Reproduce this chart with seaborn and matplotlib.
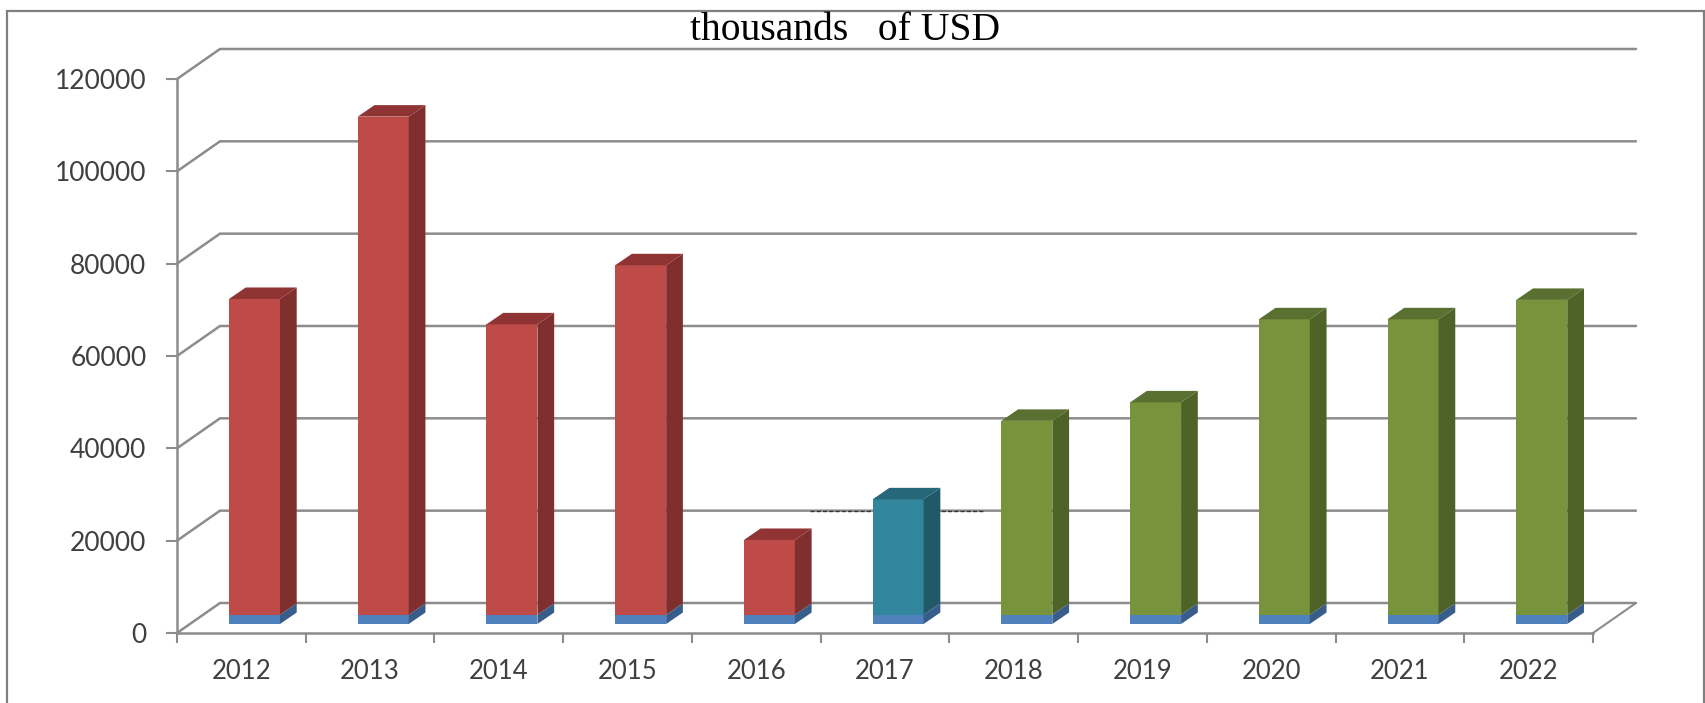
import matplotlib
matplotlib.use("Agg")
import matplotlib.pyplot as plt
from matplotlib.patches import Polygon, Rectangle
import numpy as np
import pandas as pd
import seaborn as sns

# --- datos ---
years = ["2012", "2013", "2014", "2015", "2016", "2017", "2018", "2019", "2020", "2021", "2022"]
blue_values = [2000, 2000, 2000, 2000, 2000, 2000, 2000, 2000, 2000, 2000, 2000]
main_values = [68400, 107900, 62900, 75700, 16200, 25000, 42000, 46000, 64000, 64000, 68200]
groups = ["red", "red", "red", "red", "red", "teal", "green", "green", "green", "green", "green"]
y_ticks = [0, 20000, 40000, 60000, 80000, 100000, 120000]

# colores: frente, lateral, tapa
face_colors = {"red": "#BE4B48", "teal": "#31859C", "green": "#77933C", "blue": "#4F81BD"}
side_colors = {"red": "#7F2F2D", "teal": "#215968", "green": "#4F6228", "blue": "#385D8A"}
top_colors = {"red": "#8F3432", "teal": "#266779", "green": "#5A7030"}
GRID = "#8C8C8C"

# profundidad del "3D" en unidades de datos
WALL_DX, WALL_DY = 0.334, 6500
BAR_DX, BAR_DY = 0.13, 2490
BAR_SHIFT = 0.102
FLOOR = 1950

W, H = 1706, 703
sns.set_style("white")
plt.rcParams["font.family"] = ["Lato", "DejaVu Sans"]

fig = plt.figure(figsize=(W / 100, H / 100), dpi=100)
ax = fig.add_axes([177 / W, 1 - 633 / H, (1593 - 177) / W, (633 - 79) / H])
ax.patch.set_alpha(0)

# marco exterior (sale por abajo de la figura)
fig.add_artist(Rectangle((7.5 / W, -0.02), (1704 - 7.5) / W, 1.02 - 10.5 / H, transform=fig.transFigure,
                         fill=False, edgecolor="#7F7F7F", linewidth=1.6))

df = pd.DataFrame({"year": years, "blue": blue_values, "main": main_values, "group": groups})

# barras apiladas: primero la base azul, encima la serie principal
sns.barplot(data=df, x="year", y="blue", color=face_colors["blue"], saturation=1, width=0.396,
            bottom=FLOOR, zorder=3, ax=ax)
n_blue = len(ax.patches)
sns.barplot(data=df, x="year", y="main", hue="group", palette=face_colors, saturation=1, width=0.396,
            dodge=False, bottom=FLOOR + blue_values[0], legend=False, zorder=3, ax=ax)

# caras lateral y superior a partir de cada barra ya dibujada
for i, p in enumerate(list(ax.patches)):
    if p.get_height() <= 0:
        continue
    is_blue = i < n_blue
    group = "blue" if is_blue else groups[int(round(p.get_x() + p.get_width() / 2))]
    p.set_x(p.get_x() + BAR_SHIFT)
    p.set_edgecolor("none")
    x0, x1 = p.get_x(), p.get_x() + p.get_width()
    y0, y1 = p.get_y(), p.get_y() + p.get_height()
    ax.add_patch(Polygon([(x1, y0), (x1 + BAR_DX, y0 + BAR_DY), (x1 + BAR_DX, y1 + BAR_DY), (x1, y1)],
                         facecolor=side_colors[group], edgecolor="none", zorder=3, clip_on=False))
    if not is_blue:
        ax.add_patch(Polygon([(x0, y1), (x0 + BAR_DX, y1 + BAR_DY), (x1 + BAR_DX, y1 + BAR_DY), (x1, y1)],
                             facecolor=top_colors[group], edgecolor="none", zorder=3, clip_on=False))

# paredes: lineas de la cuadricula con la diagonal de profundidad
x_left, x_right = -0.5, len(years) - 0.5
for v in y_ticks:
    ax.plot([x_left, x_left + WALL_DX, x_right + WALL_DX], [v, v + WALL_DY, v + WALL_DY],
            color=GRID, lw=1.8, zorder=1, clip_on=False, solid_joinstyle="miter")
ax.plot([x_right, x_right + WALL_DX], [0, WALL_DY], color=GRID, lw=1.5, zorder=1, clip_on=False)

# trozo punteado oscuro a los lados de 2017
ax.plot([4.42, 5.78], [20000 + WALL_DY, 20000 + WALL_DY], color="#333333", lw=1, ls=(0, (3, 1.5)),
        zorder=1.5, clip_on=False)

ax.set_xlim(x_left, x_right)
ax.set_ylim(0, 120000)
ax.set_xlabel("")
ax.set_ylabel("")

ax.set_xticks(range(len(years)), labels=years)
ax.set_xticks(np.arange(x_left, x_right + 1), minor=True)
ax.set_yticks(y_ticks, labels=[str(v) for v in y_ticks])
ax.tick_params(axis="x", which="major", length=0, pad=19, labelsize=18.5, labelcolor="#404040")
ax.tick_params(axis="x", which="minor", bottom=True, length=7, width=1.5, color=GRID)
ax.tick_params(axis="y", left=True, length=8, width=1.5, color=GRID, pad=14, labelsize=19, labelcolor="#404040")

for side in ["top", "right"]:
    ax.spines[side].set_visible(False)
for side in ["left", "bottom"]:
    ax.spines[side].set_color(GRID)
    ax.spines[side].set_linewidth(1.8)

fig.text(845 / W, 1 - 30 / H, "thousands   of USD", family="Liberation Serif", fontsize=28.5,
         color="black", ha="center", va="center")

fig.savefig("out.png", dpi=100)
